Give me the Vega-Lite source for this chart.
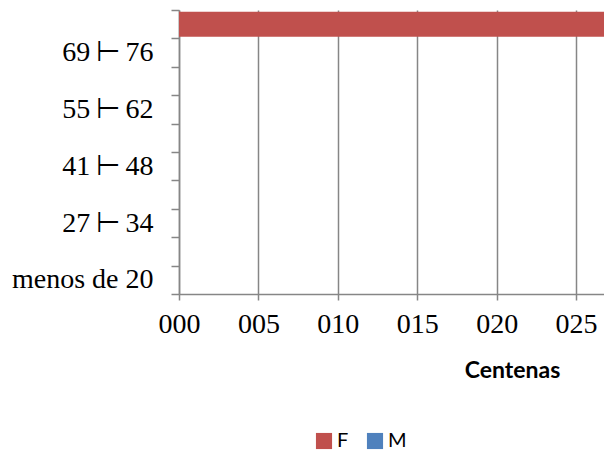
{
  "$schema": "https://vega.github.io/schema/vega-lite/v6.json",
  "width": 425,
  "height": 284,
  "autosize": {"type": "none"},
  "padding": {"left": 179, "top": 10, "right": 0, "bottom": 157},
  "background": "white",
  "config": {"view": {"stroke": null}},
  "data": {
    "values": [
      {"faixa": "menos de 20", "sexo": "F", "valor": 0},
      {"faixa": "menos de 20", "sexo": "M", "valor": 0},
      {"faixa": "20 ⊢ 27", "sexo": "F", "valor": 0},
      {"faixa": "20 ⊢ 27", "sexo": "M", "valor": 0},
      {"faixa": "27 ⊢ 34", "sexo": "F", "valor": 0},
      {"faixa": "27 ⊢ 34", "sexo": "M", "valor": 0},
      {"faixa": "34 ⊢ 41", "sexo": "F", "valor": 0},
      {"faixa": "34 ⊢ 41", "sexo": "M", "valor": 0},
      {"faixa": "41 ⊢ 48", "sexo": "F", "valor": 0},
      {"faixa": "41 ⊢ 48", "sexo": "M", "valor": 0},
      {"faixa": "48 ⊢ 55", "sexo": "F", "valor": 0},
      {"faixa": "48 ⊢ 55", "sexo": "M", "valor": 0},
      {"faixa": "55 ⊢ 62", "sexo": "F", "valor": 0},
      {"faixa": "55 ⊢ 62", "sexo": "M", "valor": 0},
      {"faixa": "62 ⊢ 69", "sexo": "F", "valor": 0},
      {"faixa": "62 ⊢ 69", "sexo": "M", "valor": 0},
      {"faixa": "69 ⊢ 76", "sexo": "F", "valor": 0},
      {"faixa": "69 ⊢ 76", "sexo": "M", "valor": 0},
      {"faixa": "76 ⊢ 83", "sexo": "F", "valor": 30},
      {"faixa": "76 ⊢ 83", "sexo": "M", "valor": 0}
    ]
  },
  "mark": {"type": "bar", "clip": true, "height": {"band": 0.88}},
  "encoding": {
    "y": {
      "field": "faixa",
      "type": "nominal",
      "sort": ["76 ⊢ 83", "69 ⊢ 76", "62 ⊢ 69", "55 ⊢ 62", "48 ⊢ 55", "41 ⊢ 48", "34 ⊢ 41", "27 ⊢ 34", "20 ⊢ 27", "menos de 20"],
      "scale": {"paddingInner": 0, "paddingOuter": 0},
      "axis": {
        "title": null,
        "grid": false,
        "tickBand": "extent",
        "domainColor": "#868686",
        "domainWidth": 1.5,
        "tickColor": "#868686",
        "tickWidth": 1.5,
        "tickSize": 8,
        "labelFont": "Liberation Serif",
        "labelFontSize": 28,
        "labelColor": "#000000",
        "labelPadding": 18,
        "labelExpr": "indexof(['menos de 20','27 ⊢ 34','41 ⊢ 48','55 ⊢ 62','69 ⊢ 76'], datum.value) >= 0 ? replace(datum.value, ' ⊢ ', '\u2009⊢\u2009') : ''"
      }
    },
    "x": {
      "field": "valor",
      "type": "quantitative",
      "stack": "zero",
      "scale": {"domain": [0, 26.76], "nice": false, "zero": true},
      "axis": {
        "values": [0, 5, 10, 15, 20, 25],
        "format": "03d",
        "grid": true,
        "gridColor": "#868686",
        "gridWidth": 1.5,
        "domainColor": "#868686",
        "domainWidth": 1.5,
        "tickColor": "#868686",
        "tickWidth": 1.5,
        "tickSize": 6,
        "labelFont": "Liberation Serif",
        "labelFontSize": 28,
        "labelColor": "#000000",
        "labelPadding": 10,
        "labelFlush": false,
        "title": "Centenas",
        "titleFont": "Lato",
        "titleFontSize": 23,
        "titleFontWeight": "bold",
        "titleColor": "#000000",
        "titleAnchor": "start",
        "titleAlign": "center",
        "titleX": 333,
        "titleY": 76,
        "titleBaseline": "middle"
      }
    },
    "color": {
      "field": "sexo",
      "type": "nominal",
      "scale": {"domain": ["F", "M"], "range": ["#C0504D", "#4F81BD"]},
      "legend": {
        "title": null,
        "orient": "none",
        "direction": "horizontal",
        "legendX": 135,
        "legendY": 421,
        "symbolType": "square",
        "symbolSize": 260,
        "symbolStrokeWidth": 0,
        "labelFont": "Lato",
        "labelFontSize": 20,
        "labelColor": "#000000",
        "labelOffset": 3,
        "columnPadding": 16
      }
    },
    "order": {"field": "sexo"}
  }
}
